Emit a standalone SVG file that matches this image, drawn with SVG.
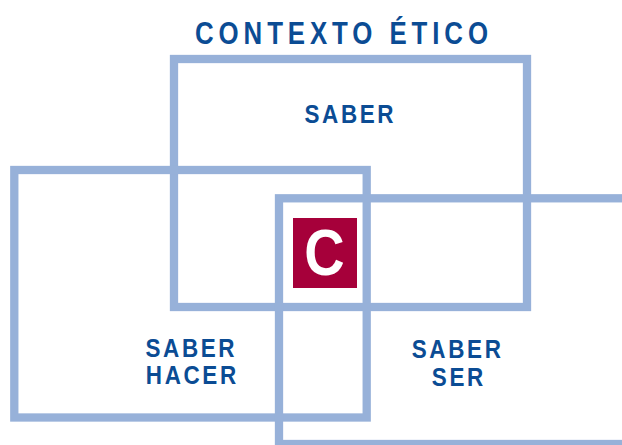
<svg xmlns="http://www.w3.org/2000/svg" width="622" height="445" viewBox="0 0 622 445">
<style>
.frame{fill:none;stroke:#97B1D9;stroke-width:8.3}
.lbl{font-family:"Liberation Sans",Arial,sans-serif;font-weight:bold;fill:#0B4C94;font-size:25.5px;letter-spacing:3px;text-anchor:middle}
.title{font-family:"Liberation Sans",Arial,sans-serif;font-weight:bold;fill:#0B4C94;font-size:31.5px;letter-spacing:6px;text-anchor:middle}
</style>
<rect width="622" height="445" fill="#ffffff"/>
<text class="title" transform="translate(341.5,44.3) scale(0.82,1)" x="3" y="0">CONTEXTO ÉTICO</text>
<g id="saber">
<rect class="frame" x="174" y="59" width="353" height="248"/>
<text class="lbl" transform="translate(349,122.7) scale(0.88,1)" x="1.5" y="0">SABER</text>
</g>
<g id="saber-hacer">
<rect class="frame" x="14.3" y="170" width="352.4" height="247.5"/>
<text class="lbl" transform="translate(190,356.7) scale(0.88,1)" x="1.5" y="0">SABER</text>
<text class="lbl" transform="translate(191,384) scale(0.88,1)" x="1.5" y="0">HACER</text>
</g>
<g id="saber-ser">
<rect class="frame" x="279" y="198.3" width="380" height="245.7"/>
<text class="lbl" transform="translate(456.3,358.3) scale(0.88,1)" x="1.5" y="0">SABER</text>
<text class="lbl" transform="translate(457.5,386) scale(0.88,1)" x="1.5" y="0">SER</text>
</g>
<g id="c">
<rect x="293" y="218" width="64" height="70" fill="#A6003A"/>
<text transform="translate(324.5,275) scale(0.86,1)" font-family="Liberation Sans,Arial,sans-serif" font-weight="bold" font-size="65" fill="#ffffff" text-anchor="middle">C</text>
</g>
</svg>
